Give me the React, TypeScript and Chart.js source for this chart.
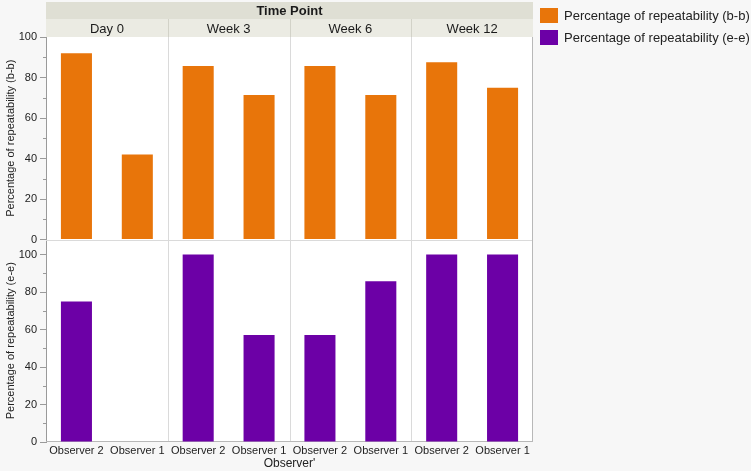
import React, { useEffect, useRef } from 'react';
import { Chart, registerables } from 'chart.js';

Chart.register(...registerables);

const timePoints = ['Day 0', 'Week 3', 'Week 6', 'Week 12'];
const observers = ['Observer 2', 'Observer 1'];
const bbValues = [92, 42, 85.7, 71.4, 85.7, 71.4, 87.5, 75];
const eeValues = [75, 0, 100, 57.1, 57.1, 85.7, 100, 100];
const yTicks = [0, 20, 40, 60, 80, 100];
const yMinorTicks = [10, 30, 50, 70, 90];
const seriesNames = ['Percentage of repeatability (b-b)', 'Percentage of repeatability (e-e)'];
const seriesColors = ['#E8750A', '#6C00A6'];
const groupTitle = 'Time Point';
const xTitle = "Observer'";

const categories = timePoints.flatMap(() => observers);
const FONT = '"Liberation Sans", Arial, Helvetica, sans-serif';

const facetPlugin = {
  id: 'facetPanels',
  beforeDraw(chart: any) {
    const { ctx, chartArea: ca } = chart;
    ctx.save();
    ctx.fillStyle = '#ffffff';
    ctx.fillRect(ca.left, ca.top, ca.right - ca.left, ca.bottom - ca.top);
    ctx.restore();
  },
  beforeDatasetsDraw(chart: any) {
    const { ctx, chartArea: ca, scales } = chart;
    const x = scales.x;
    const yT = scales.yT;
    const yB = scales.yB;
    const half = (x.getPixelForValue(1) - x.getPixelForValue(0)) / 2;
    const line = (x1: number, y1: number, x2: number, y2: number) => {
      ctx.beginPath();
      ctx.moveTo(x1, y1);
      ctx.lineTo(x2, y2);
      ctx.stroke();
    };
    ctx.save();
    ctx.lineWidth = 1;
    ctx.strokeStyle = '#dadada';
    for (let i = 1; i < timePoints.length; i++) {
      const px = Math.round(x.getPixelForValue(i * observers.length) - half) + 0.5;
      line(px, ca.top, px, ca.bottom);
    }
    const sy = Math.round(yT.bottom) + 0.5;
    line(ca.left, sy, ca.right, sy);
    ctx.strokeStyle = '#b8b8b8';
    const rx = Math.round(ca.right) - 0.5;
    line(rx, ca.top, rx, ca.bottom);
    const by = Math.round(ca.bottom) - 0.5;
    line(ca.left, by, ca.right, by);
    ctx.strokeStyle = '#9a9a9a';
    [yT, yB].forEach((s: any) => {
      yMinorTicks.forEach((v) => {
        const py = Math.round(s.getPixelForValue(v)) + 0.5;
        line(ca.left - 3, py, ca.left, py);
      });
    });
    ctx.restore();
  },
  afterDraw(chart: any) {
    const { ctx, chartArea: ca, scales } = chart;
    const x = scales.x;
    const half = (x.getPixelForValue(1) - x.getPixelForValue(0)) / 2;
    const w = ca.right - ca.left;
    const top0 = ca.top - 35;
    const h0 = 17;
    const top1 = ca.top - 18;
    const h1 = 18;
    ctx.save();
    ctx.fillStyle = '#dfdfd4';
    ctx.fillRect(ca.left, top0, w, h0);
    ctx.fillStyle = '#ebebe3';
    ctx.fillRect(ca.left, top1, w, h1);
    ctx.fillStyle = '#1a1a1a';
    ctx.textAlign = 'center';
    ctx.textBaseline = 'middle';
    ctx.font = 'bold 13px ' + FONT;
    ctx.fillText(groupTitle, (ca.left + ca.right) / 2, top0 + h0 / 2 + 1);
    ctx.font = '13px ' + FONT;
    timePoints.forEach((tp, i) => {
      const l = x.getPixelForValue(i * observers.length) - half;
      const r = x.getPixelForValue(i * observers.length + observers.length - 1) + half;
      ctx.fillStyle = '#1a1a1a';
      ctx.fillText(tp, (l + r) / 2, top1 + h1 / 2 + 1);
      if (i > 0) {
        ctx.strokeStyle = '#d2d2c8';
        ctx.lineWidth = 1;
        const px = Math.round(l) + 0.5;
        ctx.beginPath();
        ctx.moveTo(px, top1);
        ctx.lineTo(px, ca.top);
        ctx.stroke();
      }
    });

    // legend
    const lx = Math.round(ca.right) + 7;
    let ly = 8;
    ctx.textAlign = 'left';
    ctx.textBaseline = 'middle';
    ctx.font = '13px ' + FONT;
    chart.data.datasets.forEach((ds: any) => {
      ctx.fillStyle = ds.backgroundColor;
      ctx.fillRect(lx, ly, 18, 15);
      ctx.fillStyle = '#222';
      ctx.fillText(ds.label, lx + 24, ly + 8);
      ly += 22;
    });
    ctx.restore();
  },
};

export default function App() {
  const canvasRef = useRef<HTMLCanvasElement | null>(null);

  useEffect(() => {
    if (!canvasRef.current) return;
    Chart.defaults.font.family = FONT;
    const yCommon = (title: string, max: number) => ({
      type: 'linear',
      position: 'left',
      stack: 'panels',
      stackWeight: 1,
      min: 0,
      max,
      afterFit: (s: any) => {
        s.width = 46;
      },
      grid: { drawOnChartArea: false, drawTicks: true, tickLength: 6, color: '#9a9a9a' },
      border: { display: true, color: '#9a9a9a', width: 1 },
      ticks: {
        stepSize: 20,
        includeBounds: false,
        autoSkip: false,
        padding: 3,
        color: '#222',
        font: { size: 11, family: FONT },
        callback: (v: any) => (yTicks.includes(Number(v)) ? String(v) : ''),
      },
      title: {
        display: true,
        text: title,
        color: '#222',
        font: { size: 11, family: FONT },
        padding: { top: 4, bottom: 0 },
      },
    });
    const chart = new Chart(canvasRef.current, {
      type: 'bar',
      data: {
        labels: categories,
        datasets: [
          {
            label: seriesNames[0],
            data: bbValues,
            yAxisID: 'yT',
            backgroundColor: seriesColors[0],
            borderWidth: 0,
            grouped: false,
            categoryPercentage: 1,
            barPercentage: 0.51,
          },
          {
            label: seriesNames[1],
            data: eeValues,
            yAxisID: 'yB',
            backgroundColor: seriesColors[1],
            borderWidth: 0,
            grouped: false,
            categoryPercentage: 1,
            barPercentage: 0.51,
          },
        ],
      },
      options: {
        animation: false,
        responsive: true,
        maintainAspectRatio: false,
        layout: { padding: { top: 1, right: 218, left: 0, bottom: 0 } },
        plugins: {
          tooltip: { enabled: false },
          legend: { display: false },
        },
        scales: {
          x: {
            type: 'category',
            position: 'bottom',
            offset: true,
            afterFit: (s: any) => {
              s.height = 29;
            },
            grid: { display: false, drawTicks: false },
            border: { display: false },
            ticks: {
              autoSkip: false,
              maxRotation: 0,
              padding: 2,
              color: '#222',
              font: { size: 11, family: FONT },
            },
            title: {
              display: true,
              text: xTitle,
              color: '#222',
              font: { size: 12, family: FONT },
              padding: { top: 0, bottom: 0 },
            },
          },
          x2: {
            type: 'category',
            position: 'top',
            offset: true,
            afterFit: (s: any) => {
              s.height = 36;
            },
            grid: { display: false, drawTicks: false },
            border: { display: false },
            ticks: { display: false },
          },
          yB: yCommon(seriesNames[1], 108),
          yT: yCommon(seriesNames[0], 100),
        } as any,
      },
      plugins: [facetPlugin],
    } as any);
    return () => chart.destroy();
  }, []);

  return (
    <div
      style={{
        position: 'fixed',
        left: 0,
        top: 0,
        width: 751,
        height: 471,
        background: '#f7f7f7',
      }}
    >
      <canvas ref={canvasRef} />
    </div>
  );
}
